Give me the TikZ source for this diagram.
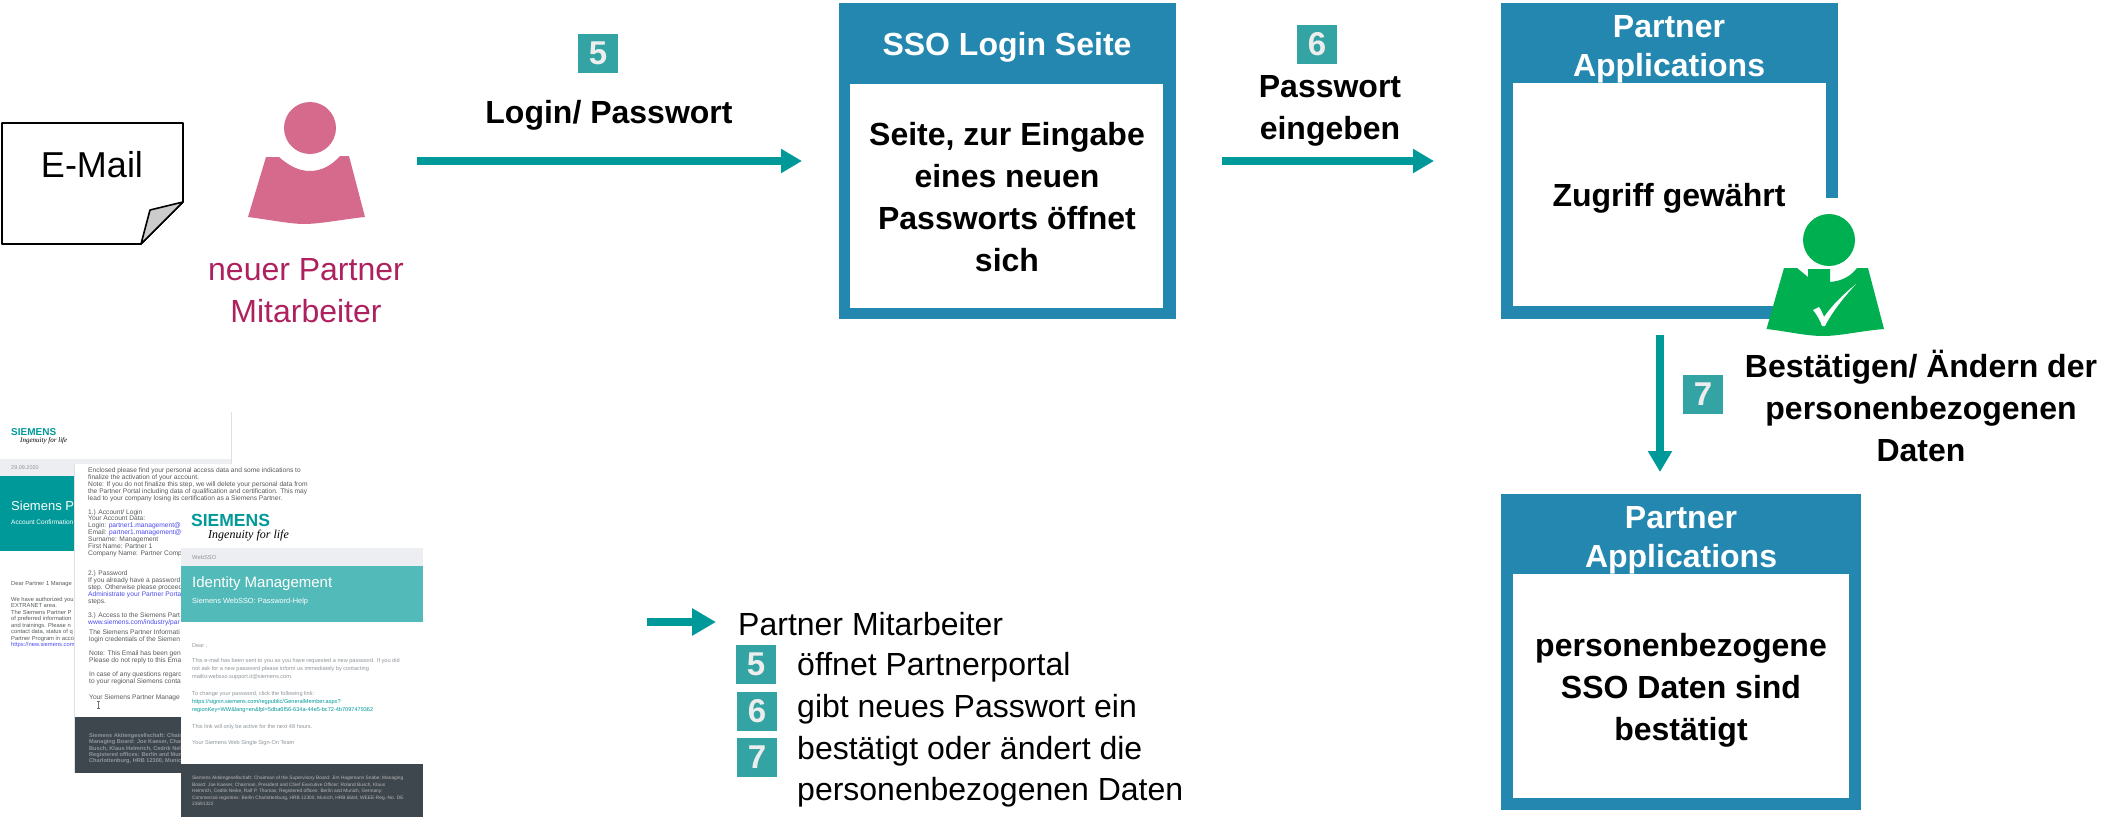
\documentclass[tikz,border=0pt]{standalone}
\usepackage{fontspec}
\setmainfont{Liberation Sans}
\newfontfamily\tagfont{Liberation Serif}
\usetikzlibrary{arrows.meta}
\definecolor{tealA}{HTML}{009999}
\definecolor{tealB}{HTML}{33A3A3}
\definecolor{tealC}{HTML}{52BBB9}
\definecolor{blueA}{HTML}{2387B0}
\definecolor{pinkA}{HTML}{D66A8C}
\definecolor{pinkB}{HTML}{AE215F}
\definecolor{greenA}{HTML}{00B050}
\definecolor{bandA}{HTML}{ECEEF2}
\definecolor{darkA}{HTML}{3F474E}
\definecolor{greyT}{HTML}{8F959A}
\definecolor{darkT}{HTML}{55595C}
\definecolor{linkA}{HTML}{4A4AF0}
\newcommand{\fs}[1]{\fontsize{#1}{#1}\selectfont}
\tikzset{
  panel/.style={fill=blueA,anchor=north west,inner sep=0pt,outer sep=0pt},
  panelin/.style={fill=white,anchor=north west,inner sep=0pt,outer sep=0pt},
  headtxt/.style={text=white,align=center,font=\fontsize{32}{39}\selectfont\bfseries,inner sep=0pt},
  lbl/.style={align=center,font=\fontsize{32}{42}\selectfont\bfseries,inner sep=0pt},
  plain/.style={anchor=west,inner sep=0pt,font=\fontsize{32}{42}\selectfont},
  badge/.style={fill=tealB,text=white!93!black,inner sep=0pt,minimum width=40pt,minimum height=39pt,font=\fontsize{33}{33}\selectfont\bfseries},
  flow/.style={draw=tealA,line width=8pt,-{Triangle[length=21pt,width=23pt]}},
  thumb/.style={anchor=north west,inner sep=0pt,align=left},
  logo/.style={anchor=west,inner sep=0pt,text=tealA,font=\bfseries}
}
\begin{document}
\begin{tikzpicture}[x=1pt,y=-1pt]
\useasboundingbox (0,0) rectangle (2101,817);
% --- E-Mail note
\draw[line width=1.6pt,line join=round,fill=white] (2,123) -- (183,123) -- (183,202) -- (141,244) -- (2,244) -- cycle;
\draw[line width=1.6pt,line join=round,fill=black!20] (141,244) -- (150,210) -- (183,202) -- cycle;
\node[inner sep=0pt,font=\fs{36}] (mail) at (92,165) {E-Mail};
% --- pink person
\fill[pinkA] (310,128) circle[radius=26];
\fill[pinkA] (266,157) -- (279,157) .. controls (288,165) and (298,171) .. (310,171) .. controls (322,171) and (332,165) .. (340,156) -- (349,156) -- (365,217) .. controls (345,219) and (320,224) .. (304,224) .. controls (290,224) and (265,219) .. (248,217) -- cycle;
\node[align=center,inner sep=0pt,text=pinkB,font=\fontsize{32}{42}\selectfont] (newp) at (306,291) {neuer Partner\\Mitarbeiter};
% --- step 5
\node[badge] (b5) at (598,53) {5};
\node[lbl] (login) at (609,115) {Login/ Passwort};
\coordinate (a5s) at (417,161);
\coordinate (a5e) at (802,161);
\draw[flow] (a5s) -- (a5e);
% --- SSO box
\node[panel,minimum width=337pt,minimum height=316pt] (sso) at (839,3) {};
\node[panelin,minimum width=313pt,minimum height=224pt] (ssoin) at (850,84) {};
\node[lbl] (ssot) at (1007,197.500) {Seite, zur Eingabe\\eines neuen\\Passworts öffnet\\sich};
\node[headtxt] (ssoh) at (1007,47) {SSO Login Seite};
% --- step 6
\node[badge] (b6) at (1317,44) {6};
\node[lbl] (pw) at (1330,111) {Passwort\\eingeben};
\coordinate (a6s) at (1222,161);
\coordinate (a6e) at (1434,161);
\draw[flow] (a6s) -- (a6e);
% --- partner box 1
\fill[blueA] (1501,3) rectangle (1838,83);
\fill[blueA] (1501,83) rectangle (1513,319);
\fill[blueA] (1501,306) rectangle (1775,319);
\fill[blueA] (1826,83) rectangle (1838,198);
\node[headtxt] (p1h) at (1669,49) {Partner\\Applications};
\node[inner sep=0pt,font=\fontsize{32}{42}\selectfont\bfseries] (zug) at (1669,198) {Zugriff gewährt};
% --- green person
\fill[greenA] (1829,240) circle[radius=26];
\fill[greenA] (1784,268) -- (1797,268) -- (1808,277) -- (1808,269) -- (1830,269) -- (1830,282) .. controls (1842,281) and (1851,276) .. (1857,268) -- (1868,268) -- (1884,329) .. controls (1860,331) and (1840,336) .. (1823,336) .. controls (1806,336) and (1785,331) .. (1766.5,329) -- cycle;
\fill[white] (1813,310) -- (1819,307) .. controls (1821,310) and (1823,314) .. (1824,317) .. controls (1833,304) and (1845,293) .. (1856,284) .. controls (1844,297) and (1832,312) .. (1825,326) -- (1822,326) .. controls (1820,320) and (1817,315) .. (1813,310) -- cycle;
\node[lbl] (best) at (1921,406) {Bestätigen/ Ändern der\\personenbezogenen\\Daten};
% --- step 7
\coordinate (a7s) at (1660,335);
\coordinate (a7e) at (1660,472);
\draw[flow] (a7s) -- (a7e);
\node[badge] (b7) at (1703,394) {7};
% --- partner box 2
\node[panel,minimum width=360pt,minimum height=316pt] (p2) at (1501,494) {};
\node[panelin,minimum width=336pt,minimum height=224pt] (p2in) at (1513,574) {};
\node[lbl] (p2t) at (1681,690) {personenbezogene\\SSO Daten sind\\bestätigt};
\node[headtxt] (p2h) at (1681,540) {Partner\\Applications};
% --- legend
\coordinate (las) at (647,622);
\coordinate (lae) at (716,622);
\draw[draw=tealA,line width=8pt,-{Triangle[length=24pt,width=26pt]}] (las) -- (lae);
\node[plain] (lt) at (738,624) {Partner Mitarbeiter};
\node[badge] (l5) at (756,664) {5};
\node[badge] (l6) at (757,711) {6};
\node[badge] (l7) at (757,757) {7};
\node[plain] (l5t) at (797,667) {öffnet Partnerportal};
\node[plain] (l6t) at (797,709) {gibt neues Passwort ein};
\node[plain] (l7t) at (797,751) {bestätigt oder ändert die};
\node[plain] (l8t) at (797,792) {personenbezogenen Daten};
% --- mail thumbnail 1
\draw[black!12,line width=.8pt] (231,412) -- (231,476);
\fill[bandA] (0,459) rectangle (231,476);
\node[logo,font=\fs{10}\bfseries] (d1logo) at (11,432) {SIEMENS};
\node[anchor=west,inner sep=0pt,font=\fs{7}\tagfont\itshape] (d1tag) at (20,441) {Ingenuity for life};
\node[anchor=west,inner sep=0pt,text=greyT,font=\fs{5.5}] (d1date) at (11,467.500) {29.09.2020};
\fill[tealA] (0,476) rectangle (231,551);
\node[anchor=west,inner sep=0pt,text=white,font=\fs{13}] (d1title) at (11,505.500) {Siemens Pa};
\node[anchor=west,inner sep=0pt,text=white,font=\fs{6.500}] (d1sub) at (11,522) {Account Confirmation};
\node[anchor=west,inner sep=0pt,text=darkT,font=\fs{5.8}] (d1dear) at (11,584) {Dear Partner 1 Manage};
\node[thumb,text=darkT,font=\fontsize{5.8}{6.5}\selectfont] (d1body) at (11,597) {We have authorized you\\EXTRANET area.\\The Siemens Partner P\\of preferred information\\and trainings. Please n\\contact data, status of q\\Partner Program in acco};
\node[thumb,text=linkA,font=\fs{5.8}] (d1link) at (11,642.500) {https://new.siemens.com};
% --- mail thumbnail 2
\fill[white] (74,464) rectangle (325,773);
\draw[black!12,line width=.8pt] (74,464) -- (74,773);
\node[thumb,text=darkT,font=\fontsize{6.65}{6.9}\selectfont] (d2a) at (88,467.500) {Enclosed please find your personal access data and some indications to\\finalize the activation of your account.\\Note: If you do not finalize this step, we will delete your personal data from\\the Partner Portal including data of qualification and certification. This may\\lead to your company losing its certification as a Siemens Partner.};
\node[thumb,text=darkT,font=\fontsize{6.65}{6.9}\selectfont] (d2b) at (88,509) {1.) Account/ Login\\Your Account Data:\\Login: \textcolor{linkA}{partner1.management@}\\Email: \textcolor{linkA}{partner1.management@}\\Surname: Management\\First Name: Partner 1\\Company Name: Partner Comp};
\node[thumb,text=darkT,font=\fontsize{6.65}{6.9}\selectfont] (d2c) at (88,570.500) {2.) Password\\If you already have a password\\step. Otherwise please proceed\\\textcolor{linkA}{Administrate your Partner Porta}\\steps.};
\node[thumb,text=darkT,font=\fontsize{6.65}{6.9}\selectfont] (d2d) at (88,612.500) {3.) Access to the Siemens Part\\\textcolor{linkA}{www.siemens.com/industry/par}};
\node[thumb,text=darkT,font=\fontsize{6.65}{7}\selectfont] (d2e) at (89,629.500) {The Siemens Partner Informati\\login credentials of the Siemen};
\node[thumb,text=darkT,font=\fontsize{6.65}{7}\selectfont] (d2f) at (89,650) {Note: This Email has been gen\\Please do not reply to this Ema};
\node[thumb,text=darkT,font=\fontsize{6.65}{7}\selectfont] (d2g) at (89,671) {In case of any questions regard\\to your regional Siemens conta};
\node[thumb,text=darkT,font=\fs{6.65}] (d2h) at (89,694.500) {Your Siemens Partner Manage};
\draw[black!55,line width=.4pt] (98.500,701) -- (98.500,708) (97,701) -- (100,701) (97,708) -- (100,708);
\fill[darkA] (75,717) rectangle (181,773);
\node[thumb,text=greyT,font=\fontsize{5.6}{6.2}\selectfont\bfseries] (d2foot) at (89,733.500) {Siemens Aktiengesellschaft: Chairm\\Managing Board: Joe Kaeser, Chairm\\Busch, Klaus Helmrich, Cedrik Nellk\\Registered offices: Berlin and Munic\\Charlottenburg, HRB 12300, Munich,};
% --- mail thumbnail 3
\fill[white] (181,506) rectangle (423,817);
\node[logo,font=\fs{17.500}\bfseries] (d3logo) at (191,520) {SIEMENS};
\node[anchor=west,inner sep=0pt,font=\fs{12}\tagfont\itshape] (d3tag) at (208,536) {Ingenuity for life};
\fill[bandA] (181,548) rectangle (423,566);
\node[anchor=west,inner sep=0pt,text=greyT,font=\fs{5.8}] (d3sso) at (192,557) {WebSSO};
\fill[tealC] (181,566) rectangle (423,622);
\node[anchor=west,inner sep=0pt,text=white,font=\fs{15}] (d3title) at (192,584) {Identity Management};
\node[anchor=west,inner sep=0pt,text=white,font=\fs{7.400}] (d3sub) at (192,601.500) {Siemens WebSSO: Password-Help};
\node[anchor=west,inner sep=0pt,text=greyT,font=\fs{5.500}] (d3dear) at (192,646) {Dear ,};
\node[thumb,text=greyT,font=\fontsize{5.6}{8.1}\selectfont] (d3a) at (192,658) {This e-mail has been sent to you as you have requested a new password. If you did\\not ask for a new password please inform us immediately by contacting\\mailto:websso.support.it@siemens.com.};
\node[thumb,text=greyT,font=\fs{5.6}] (d3b) at (192,691.500) {To change your password, click the following link:};
\node[thumb,text=tealA,font=\fontsize{5.6}{8.1}\selectfont] (d3c) at (192,699.500) {https://signin.siemens.com/regpublic/GeneralMember.aspx?\\regionKey=WW\&lang=en\&fpl=5dba6f56-634a-44e5-bc72-4b7097479362};
\node[thumb,text=greyT,font=\fs{5.6}] (d3d) at (192,724) {This link will only be active for the next 48 hours.};
\node[thumb,text=greyT,font=\fs{5.6}] (d3e) at (192,740) {Your Siemens Web Single Sign-On Team};
\fill[darkA] (181,764) rectangle (423,817);
\node[thumb,text=black!28,font=\fontsize{4.8}{6.5}\selectfont] (d3foot) at (192,776) {Siemens Aktiengesellschaft: Chairman of the Supervisory Board: Jim Hagemann Snabe; Managing\\Board: Joe Kaeser, Chairman, President and Chief Executive Officer; Roland Busch, Klaus\\Helmrich, Cedrik Neike, Ralf P. Thomas; Registered offices: Berlin and Munich, Germany;\\Commercial registries: Berlin Charlottenburg, HRB 12300, Munich, HRB 6684; WEEE-Reg.-No. DE\\23691322};
\end{tikzpicture}
\end{document}
